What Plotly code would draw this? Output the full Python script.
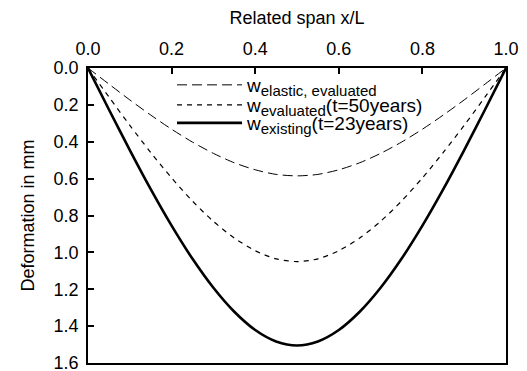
import plotly.graph_objects as go

# Related span x/L
x_rel = [0.00, 0.05, 0.10, 0.15, 0.20, 0.25, 0.30, 0.35, 0.40, 0.45, 0.50,
         0.55, 0.60, 0.65, 0.70, 0.75, 0.80, 0.85, 0.90, 0.95, 1.00]

# Deformation in mm
w_elastic = [0.000, 0.087, 0.173, 0.255, 0.332, 0.402, 0.463, 0.514, 0.552, 0.577, 0.585,
             0.577, 0.552, 0.514, 0.463, 0.402, 0.332, 0.255, 0.173, 0.087, 0.000]
w_evaluated = [0.000, 0.157, 0.311, 0.458, 0.596, 0.722, 0.832, 0.922, 0.991, 1.035, 1.050,
               1.035, 0.991, 0.922, 0.832, 0.722, 0.596, 0.458, 0.311, 0.157, 0.000]
w_existing = [0.000, 0.225, 0.445, 0.657, 0.855, 1.035, 1.192, 1.322, 1.421, 1.483, 1.505,
              1.483, 1.421, 1.322, 1.192, 1.035, 0.855, 0.657, 0.445, 0.225, 0.000]

x_ticks = [0.0, 0.2, 0.4, 0.6, 0.8, 1.0]
y_ticks = [0.0, 0.2, 0.4, 0.6, 0.8, 1.0, 1.2, 1.4, 1.6]

SUB = '<sub><span style="font-size:15px">{}</span></sub>'
names = ["w" + SUB.format("elastic, evaluated"),
         "w" + SUB.format("evaluated") + "(t=50years)",
         "w" + SUB.format("existing") + "(t=23years)"]

font_family = "Liberation Sans, Arial, sans-serif"

fig = go.Figure()
fig.add_trace(go.Scatter(x=x_rel, y=w_elastic, mode="lines", name=names[0], legend="legend",
                         line=dict(color="black", width=1, dash="10px,5px", shape="spline", smoothing=0.8)))
fig.add_trace(go.Scatter(x=x_rel, y=w_evaluated, mode="lines", name=names[1], legend="legend2",
                         line=dict(color="black", width=1.2, dash="5px,5px", shape="spline", smoothing=0.8)))
fig.add_trace(go.Scatter(x=x_rel, y=w_existing, mode="lines", name=names[2], legend="legend3",
                         line=dict(color="black", width=2.6, shape="spline", smoothing=0.8)))

def leg(row_px):
    return dict(x=0.201, y=1 - (row_px - 68) / 295, xanchor="left", yanchor="middle",
                bgcolor="rgba(0,0,0,0)", borderwidth=0, valign="bottom",
                font=dict(size=19, family=font_family, color="black"),
                itemwidth=65)

fig.update_layout(
    width=527, height=371,
    margin=dict(l=88, r=21, t=68, b=8),
    paper_bgcolor="white", plot_bgcolor="white",
    font=dict(family=font_family, size=18, color="black"),
    showlegend=True,
    legend=leg(85), legend2=leg(105), legend3=leg(123),
    xaxis=dict(side="top", range=[0, 1], tickvals=x_ticks,
               ticktext=[f"{v:.1f}" for v in x_ticks],
               ticks="inside", ticklen=6, tickwidth=1.5, tickcolor="black",
               ticklabelstandoff=4, ticklabeloverflow="allow", automargin=False,
               showline=True, linecolor="black", linewidth=1.6, mirror=True,
               showgrid=False, zeroline=False,
               title=dict(text="Related span x/L", standoff=10, font=dict(size=18)),
               tickfont=dict(size=18)),
    yaxis=dict(range=[1.6, 0], tickvals=y_ticks,
               ticktext=[f"{v:.1f}" for v in y_ticks],
               ticks="inside", ticklen=6, tickwidth=1.5, tickcolor="black",
               ticklabelstandoff=4, ticklabeloverflow="allow", automargin=False,
               showline=True, linecolor="black", linewidth=1.6, mirror=True,
               showgrid=False, zeroline=False,
               title=dict(text="Deformation in mm", standoff=14, font=dict(size=18)),
               tickfont=dict(size=18)),
)

fig.write_html("out.html")
